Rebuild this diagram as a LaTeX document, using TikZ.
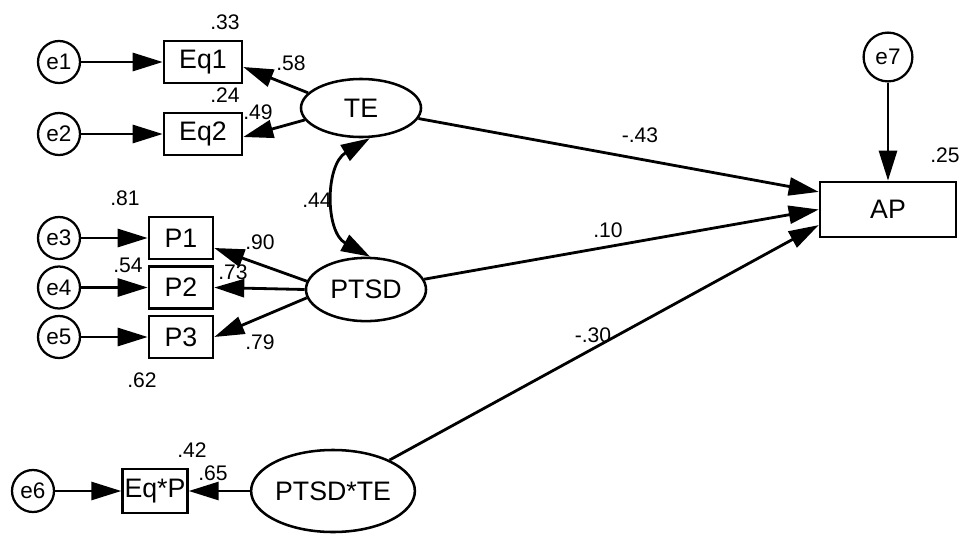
\documentclass[tikz,border=0pt]{standalone}
\usepackage{fontspec}
\setmainfont{Liberation Sans}
\usetikzlibrary{arrows.meta,shapes.geometric}

\begin{document}
\begin{tikzpicture}[x=0.025cm, y=-0.025cm,
    err/.style={circle, draw, line width=1.6pt, minimum size=1.05cm, inner sep=0pt, font=\fontsize{16}{16}\selectfont},
    box/.style={rectangle, draw, line width=1.8pt, minimum height=1.05cm, inner sep=0pt, font=\fontsize{19}{19}\selectfont},
    lat/.style={ellipse, draw, line width=1.8pt, inner sep=0pt, font=\fontsize{19}{19}\selectfont},
    reg/.style={line width=2pt, -{Triangle[length=0.75cm, width=0.45cm]}},
    cov/.style={line width=2pt, {Triangle[length=0.72cm, width=0.45cm]}-{Triangle[length=0.72cm, width=0.45cm]}},
    coef/.style={inner sep=0pt, font=\fontsize{15}{15}\selectfont}]

    \useasboundingbox (0,0) rectangle (962,534);

    % Trauma exposure indicators
    \foreach \i in {1,2} {
        \pgfmathsetmacro{\ypos}{62+72*(\i-1)}
        \node[err] (e\i) at (59,\ypos) {e\i};
        \node[box, minimum width=1.95cm] (eq\i) at (203,\ypos) {Eq\i};
        \draw[reg] (e\i) -- (eq\i);
    }

    % PTSD indicators
    \foreach \i in {1,2,3} {
        % Error term numbers follow on from the Eq ones
        \pgfmathtruncatemacro{\errnum}{\i+2}
        \pgfmathsetmacro{\ypos}{188.5+49.5*\i}
        \node[err] (e\errnum) at (59,\ypos) {e\errnum};
        \node[box, minimum width=1.6cm] (p\i) at (181,\ypos) {P\i};
        \draw[reg] (e\errnum) -- (p\i);
    }

    % Interaction indicator
    \node[err] (e6) at (33,491) {e6};
    \node[box, minimum width=1.62cm, minimum height=1.1cm] (eqp) at (155,491) {Eq*P};
    \draw[reg] (e6) -- (eqp);

    % Latent variables
    \node[lat, minimum width=3.0cm, minimum height=1.45cm] (te) at (361,108) {TE};
    \node[lat, minimum width=3.0cm, minimum height=1.58cm] (ptsd) at (366,289.5) {PTSD};
    \node[lat, minimum width=3.85cm, minimum height=2.05cm] (ptsdte) at (333,491) {PTSD*TE};

    % Outcome
    \node[box, minimum width=3.4cm, minimum height=1.38cm] (ap) at (888,209.5) {AP};
    \node[err, minimum size=1.22cm] (e7) at (888,57) {e7};
    \draw[reg] (e7) -- (ap);

    % Loadings
    \draw[reg] (te.164) -- ([yshift=-0.125cm]eq1.east);
    \draw[reg] (te.192) -- ([yshift=-0.075cm]eq2.east);
    \draw[reg] (ptsd.172) -- ([yshift=-0.25cm]p1.east);
    \draw[reg] (ptsd.west) -- (p2.east);
    \draw[reg] (ptsd.188) -- (p3.east);
    \draw[reg] (ptsdte.west) -- (eqp.east);

    % Paths to AP
    \draw[reg] (te) -- ([yshift=0.44cm]ap.west);
    \draw[reg] (ptsd) -- (ap.west);
    \draw[reg] (ptsdte) -- ([yshift=-0.39cm]ap.west);

    % Covariance
    \draw[cov] ([xshift=0.22cm]te.south) .. controls (325,165) and (325,232) .. ([xshift=0.1cm]ptsd.north);

    % Coefficients and R squared
    \node[coef] (req1) at (225,22) {.33};
    \node[coef] (req2) at (225,95) {.24};
    \node[coef] (leq1) at (291,63) {.58};
    \node[coef] (leq2) at (258,112) {.49};
    \node[coef] (ccov) at (317,200) {.44};
    \node[coef] (rp1) at (125,198) {.81};
    \node[coef] (rp2) at (128,265) {.54};
    \node[coef] (rp3) at (142,380) {.62};
    \node[coef] (lp1) at (260,242) {.90};
    \node[coef] (lp2) at (233,272) {.73};
    \node[coef] (lp3) at (260,342) {.79};
    \node[coef] (reqp) at (192,450) {.42};
    \node[coef] (leqp) at (213,473) {.65};
    \node[coef] (bte) at (640,135) {-.43};
    \node[coef] (bptsd) at (608,230) {.10};
    \node[coef] (bint) at (593,335) {-.30};
    \node[coef] (rap) at (945,155) {.25};
\end{tikzpicture}
\end{document}
